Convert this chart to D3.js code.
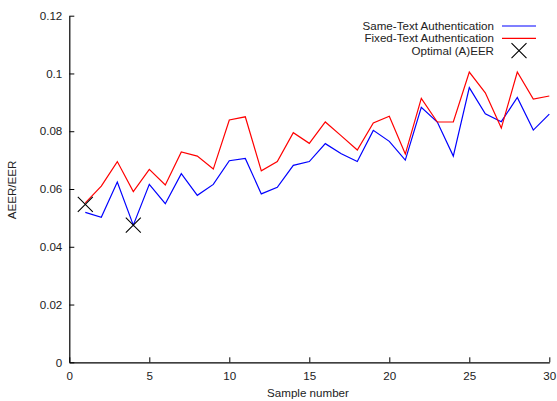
<!DOCTYPE html>
<html><head><meta charset="utf-8">
<script src="https://cdn.jsdelivr.net/npm/d3@7"></script>
<style>body{margin:0;background:#fff}svg{display:block}text{font-family:"Liberation Sans",Arial,sans-serif;fill:#222}</style>
</head><body><svg id="c" width="557" height="401"></svg>
<script>
const samples = d3.range(1, 31);
const sameText = [0.0519,0.0502,0.0624,0.0475,0.0616,0.0549,0.0653,0.0578,0.0616,0.0698,
  0.0706,0.0583,0.0606,0.0682,0.0695,0.0757,0.0722,0.0695,0.0803,0.0765,
  0.0700,0.0883,0.0832,0.0714,0.0951,0.0860,0.0833,0.0917,0.0804,0.0859];
const fixedText = [0.0552,0.0610,0.0695,0.0591,0.0668,0.0614,0.0728,0.0714,0.0669,0.0839,
  0.0850,0.0663,0.0695,0.0795,0.0758,0.0832,0.0784,0.0735,0.0829,0.0852,
  0.0721,0.0914,0.0832,0.0832,0.1005,0.0933,0.0811,0.1005,0.0911,0.0922];
const optimalX = [1, 4];
const optimalY = [0.0547, 0.0475];
const xTicks = [0,5,10,15,20,25,30];
const yTicks = [0,0.02,0.04,0.06,0.08,0.1,0.12];
const seriesNames = ["Same-Text Authentication","Fixed-Text Authentication","Optimal (A)EER"];
const seriesColors = ["#0000ff","#ff0000","#000"];

const svg = d3.select("#c");
const x = d3.scaleLinear().domain([0,30]).range([69.3,549.3]);
const y = d3.scaleLinear().domain([0,0.12]).range([362.3,15.7]);
const fs = "11.6px";

// axes (left & bottom only, inward ticks)
const gx = svg.append("g").attr("transform",`translate(0,${y(0)})`)
  .call(d3.axisBottom(x).tickValues(xTicks).tickSizeInner(-5).tickSizeOuter(0).tickPadding(9).tickFormat(d3.format("d")));
const gy = svg.append("g").attr("transform",`translate(${x(0)},0)`)
  .call(d3.axisLeft(y).tickValues(yTicks).tickSizeInner(-5).tickSizeOuter(0).tickPadding(7).tickFormat(d=>d===0?"0":String(+d.toFixed(2))));
[gx,gy].forEach(g=>{
  g.selectAll("path").attr("stroke","#000").attr("stroke-width",1.2);
  g.selectAll("line").attr("stroke","#000").attr("stroke-width",1);
  g.selectAll("text").style("font-size",fs).attr("fill","#222");
});
gy.selectAll(".tick text").attr("dx","0");

svg.append("text").attr("x",308).attr("y",397).attr("text-anchor","middle").style("font-size",fs).text("Sample number");
svg.append("text").attr("transform","translate(16,190) rotate(-90)").attr("text-anchor","middle").style("font-size",fs).text("AEER/EER");

const line = d3.line().x((d,i)=>x(samples[i])).y(d=>y(d));
svg.append("path").datum(sameText).attr("d",line).attr("fill","none").attr("stroke",seriesColors[0]).attr("stroke-width",1.2);
svg.append("path").datum(fixedText).attr("d",line).attr("fill","none").attr("stroke",seriesColors[1]).attr("stroke-width",1.2);

function cross(g, cx, cy, r){
  g.append("path").attr("d",`M${cx-r},${cy-r}L${cx+r},${cy+r}M${cx-r},${cy+r}L${cx+r},${cy-r}`)
   .attr("stroke","#000").attr("stroke-width",1.1).attr("fill","none");
}
const mg = svg.append("g");
optimalX.forEach((v,i)=>cross(mg, x(v), y(optimalY[i]), 7.5));

// legend
const lg = svg.append("g");
const rowsY = [26,38.3,50.7];
seriesNames.forEach((n,i)=>{
  lg.append("text").attr("x",494).attr("y",rowsY[i]).attr("dy","0.35em").attr("text-anchor","end").style("font-size",fs).text(n);
  if(i<2) lg.append("line").attr("x1",502).attr("x2",536).attr("y1",rowsY[i]).attr("y2",rowsY[i]).attr("stroke",seriesColors[i]).attr("stroke-width",1.2);
  else cross(lg, 519, rowsY[i], 7.5);
});
</script></body></html>
